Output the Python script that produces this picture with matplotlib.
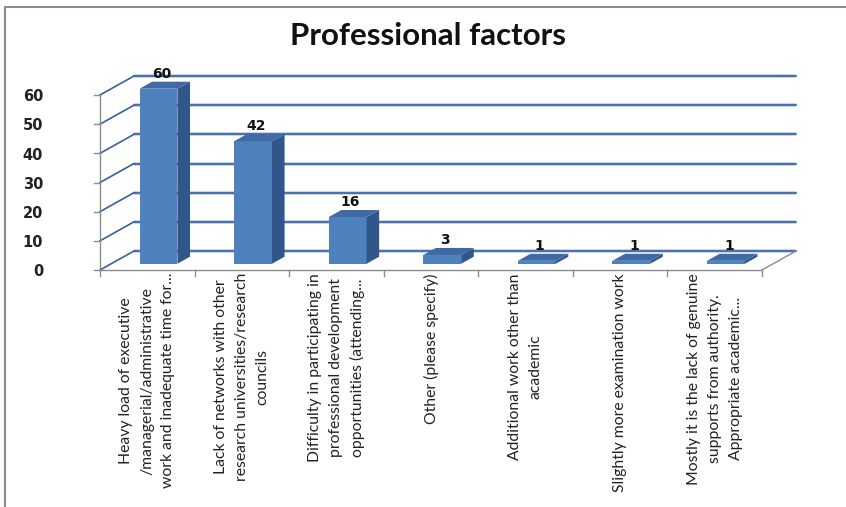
import matplotlib
matplotlib.use("Agg")
import matplotlib.pyplot as plt
from matplotlib.patches import Polygon, Rectangle

# data
categories = [
    "Heavy load of executive\n/managerial/administrative\nwork and inadequate time for...",
    "Lack of networks with other\nresearch universities/research\ncouncils",
    "Difficulty in participating in\nprofessional development\nopportunities (attending...",
    "Other (please specify)",
    "Additional work other than\nacademic",
    "Slightly more examination work",
    "Mostly it is the lack of genuine\nsupports from authority.\nAppropriate academic...",
]
values = [60, 42, 16, 3, 1, 1, 1]
y_ticks = [0, 10, 20, 30, 40, 50, 60]
title = "Professional factors"

W, H = 846, 507
fig = plt.figure(figsize=(W / 100, H / 100), dpi=100)
fig.patch.set_facecolor("white")

# front plane of the 3D box: x 0..7 at px 100..762, y 0..60 at px 270..95
ax = fig.add_axes([100 / W, 1 - 270 / H, 662 / W, 175 / H])
n = len(categories)
ax.set_xlim(0, n)
ax.set_ylim(0, 60)
ax.axis("off")

px_x = 662 / n          # pixels per category
px_y = 175 / 60         # pixels per value unit
DX = 34 / px_x          # depth offset in data units
DY = 19 / px_y

grid_c = "#3560A0"
grid_shadow = "#BACDE6"
gray = "#8C8C8C"

# back wall gridlines + left wall diagonals
for k in y_ticks:
    ax.plot([DX, n + DX], [k + DY, k + DY], color=grid_shadow, lw=2.6,
            clip_on=False, zorder=1, solid_capstyle="butt")
    ax.plot([DX, n + DX], [k + DY, k + DY], color=grid_c, lw=1.2,
            clip_on=False, zorder=2)
    ax.plot([0, DX], [k, k + DY], color=grid_c, lw=1.2, clip_on=False, zorder=2)
    # y tick mark
    ax.plot([-6 / px_x, 0], [k, k], color=gray, lw=1, clip_on=False, zorder=2)
    ax.text(-57 / px_x, k - 0.6, str(k), ha="right", va="center", fontsize=10.5,
            fontweight="bold", family="DejaVu Sans", color="#222222")

# y axis and floor
ax.plot([0, 0], [0, 60], color=gray, lw=1, clip_on=False, zorder=2)
ax.plot([0, n], [0, 0], color=gray, lw=1, clip_on=False, zorder=2)
ax.plot([n, n + DX], [0, DY], color=gray, lw=1, clip_on=False, zorder=2)
for i in range(n + 1):
    ax.plot([i, i], [0, -6 / px_y], color=gray, lw=1, clip_on=False, zorder=2)

# 3D bars: front face, top and side
d0, d1 = 0.33, 0.70
bw = 0.4
front_c, top_c, side_c = "#4F81BD", "#3F6AA5", "#31568A"
for i, v in enumerate(values):
    x0 = i + 0.5 - bw / 2 + d0 * DX
    y0 = d0 * DY
    ddx, ddy = (d1 - d0) * DX, (d1 - d0) * DY
    ax.bar(x0, v, width=bw, bottom=y0, align="edge", color=front_c,
           edgecolor="none", zorder=5, clip_on=False)
    side = [(x0 + bw, y0), (x0 + bw, y0 + v), (x0 + bw + ddx, y0 + v + ddy),
            (x0 + bw + ddx, y0 + ddy)]
    top = [(x0, y0 + v), (x0 + bw, y0 + v), (x0 + bw + ddx, y0 + v + ddy),
           (x0 + ddx, y0 + v + ddy)]
    ax.add_patch(Polygon(side, closed=True, facecolor=side_c, edgecolor="none",
                         zorder=5, clip_on=False))
    ax.add_patch(Polygon(top, closed=True, facecolor=top_c, edgecolor="none",
                         zorder=5, clip_on=False))
    ax.text(i + 0.5 + 0.5 * DX - 0.03, y0 + v + ddy + 1 / px_y, str(v),
            ha="center", va="bottom", fontsize=10, fontweight="bold",
            family="DejaVu Sans", color="#111111", zorder=6)

# rotated category labels
for i, lab in enumerate(categories):
    ax.text(i + 0.5, -3 / px_y, lab, rotation=90, ha="center", va="top",
            multialignment="center", fontsize=11.3, family="Lato",
            linespacing=1.62, color="#222222")

fig.text(428 / W, 1 - 36 / H, title, ha="center", va="center", fontsize=22.5,
         fontweight="bold", family="Lato", color="#111111")

# chart area border
fig.patches.append(Rectangle((4.5 / W, -0.1), 2, 1.1 - 6.5 / H,
                             transform=fig.transFigure, fill=False,
                             edgecolor=gray, lw=1.5))

fig.savefig("out.png", dpi=100, facecolor="white")
